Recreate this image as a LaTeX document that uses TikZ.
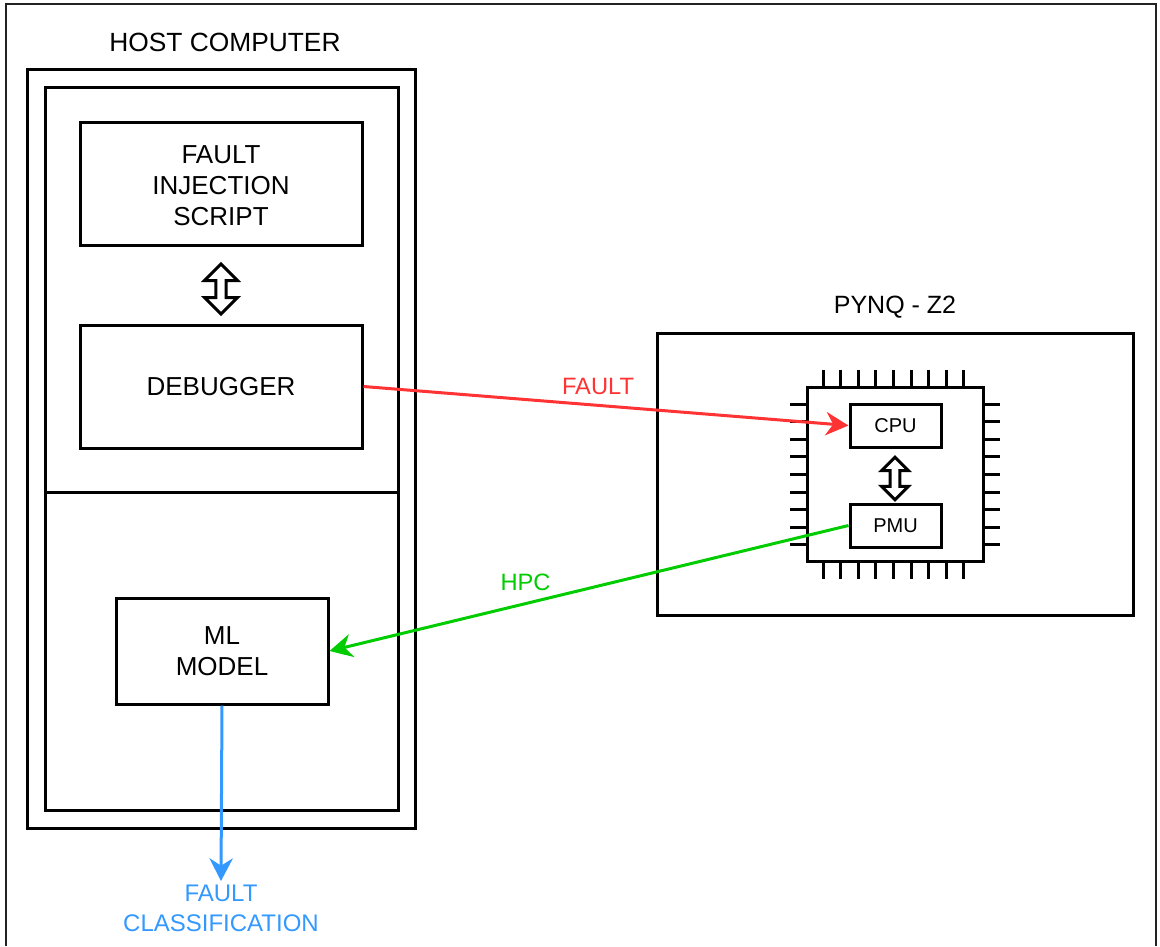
\documentclass[tikz,border=0pt]{standalone}
\usepackage{fontspec}
\setmainfont{Liberation Sans}
\usetikzlibrary{arrows.meta,shapes.arrows}
\definecolor{faultred}{HTML}{FF3333}
\definecolor{hpcgreen}{HTML}{00CC00}
\definecolor{outblue}{HTML}{3399FF}
\definecolor{edgegray}{HTML}{222222}
\tikzset{
  sz/.style 2 args={minimum width=#1*0.75pt, minimum height=#2*0.75pt},
  box/.style={draw, line width=2.25pt, inner sep=0pt, align=center,
    font=\fontsize{19.5}{23.4}\selectfont},
  chipbox/.style={draw, line width=2.25pt, fill=white, inner sep=0pt,
    font=\fontsize{15}{18}\selectfont},
  hollow/.style={double arrow, draw, line width=2.25pt, fill=white, rotate=90,
    double arrow tip angle=90, inner xsep=0pt},
  link/.style={line width=2.25pt, -{Stealth[length=17pt,width=17.5pt,inset=5.5pt]}},
  tag/.style={inner sep=0pt, font=\fontsize{17.75}{21.3}\selectfont},
  title/.style={inner sep=0pt, font=\fontsize{19.75}{23.7}\selectfont},
  pin/.style={line width=2.25pt},
}
\begin{document}
\begin{tikzpicture}[x=0.75pt, y=-0.75pt]
  \useasboundingbox[fill=white] (0,0) rectangle (1160,946);
  % open frame round the drawing
  \draw[edgegray, line width=1.1pt] (6,946) -- (6,4) -- (1156,4) -- (1156,946);

  % host computer
  \node[title] (hosttitle) at (225,42) {HOST COMPUTER};
  \node[box, sz={388}{759}] (host) at (221,448.5) {};
  \node[box, sz={353}{723}] (hostin) at (221.5,448.5) {};
  \draw[line width=2.25pt] (hostin.west |- 0,492) coordinate (divl) -- (hostin.east |- 0,492) coordinate (divr);
  \node[box, sz={282}{123}] (fis) at (221,183.5) {};
  \node[box, inner sep=0pt] (fistext) at (221,185.5) [draw=none] {FAULT\\INJECTION\\SCRIPT};
  \node[box, sz={282}{123}] (dbg) at (221,386.5) {DEBUGGER};
  \node[box, sz={212}{106}] (ml) at (222,651) {ML\\MODEL};
  \node[hollow, inner ysep=2.75pt, minimum height=37.5pt,
        double arrow head extend=8.5pt] (fisdbg) at (221,289) {};

  % board
  \node[title, font=\fontsize{18.75}{22.5}\selectfont] (pynqtitle) at (895,307) {PYNQ - Z2};
  \node[box, sz={476}{282}] (pynq) at (895,474) {};
  \foreach \k in {0,...,8} {
    \pgfmathsetmacro\pa{823+17.6*\k}
    \pgfmathsetmacro\pb{404+17.6*\k}
    \draw[pin] (\pa,370) -- (\pa,387);
    \draw[pin] (\pa,561) -- (\pa,579);
    \draw[pin] (790,\pb) -- (807,\pb);
    \draw[pin] (983,\pb) -- (1000,\pb);
  }
  \node[chipbox, sz={176}{174}] (chip) at (895,474) {};
  \node[chipbox, sz={91}{43}] (cpu) at (895.5,425.5) {CPU};
  \node[chipbox, sz={91}{43}] (pmu) at (895.5,525.5) {PMU};
  \node[hollow, inner ysep=2.5pt, minimum height=32pt,
        double arrow head extend=6.5pt] (cpupmu) at (895,478.5) {};

  % signal paths
  \draw[link, faultred] (dbg.east) -- (cpu.west);
  \node[tag, text=faultred] (faulttag) at (598,386) {FAULT};
  \draw[link, hpcgreen] (pmu.west) -- (ml.east);
  \node[tag, text=hpcgreen] (hpctag) at (525.5,582) {HPC};
  \coordinate (clsend) at (221,881);
  \draw[link, outblue] (ml.south) -- (clsend);
  \node[inner sep=0pt, anchor=north, align=center, text=outblue,
        font=\fontsize{18}{22.4}\selectfont] (cls) at (221,884.5) {FAULT\\CLASSIFICATION};
\end{tikzpicture}
\end{document}
